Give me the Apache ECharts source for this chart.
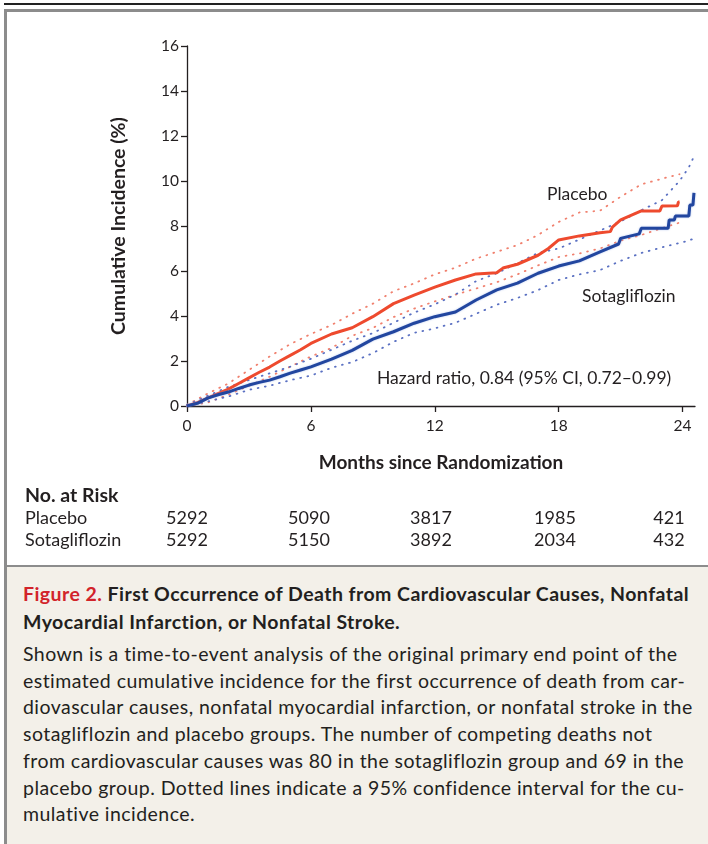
<!DOCTYPE html>
<html><head><meta charset="utf-8">
<script src="https://cdn.jsdelivr.net/npm/echarts@6/dist/echarts.min.js"></script>
<style>
html,body{margin:0;padding:0;background:#fff;}
#wrap{position:relative;width:708px;height:844px;overflow:hidden;font-family:Lato,"Open Sans",sans-serif;}
#chart{position:absolute;left:0;top:0;width:708px;height:566px;}
.bar{position:absolute;background:#8c8c8c;z-index:5;}
#topblack{position:absolute;left:4px;top:3px;width:704px;height:2px;background:#222;z-index:5;}
#cap{position:absolute;left:7px;top:567px;width:701px;height:277px;background:#f3f0e9;}
#cap .t{position:absolute;left:16px;top:13px;font-weight:bold;font-size:19.5px;letter-spacing:0.45px;line-height:28px;color:#231f20;white-space:nowrap;}
#cap .t span{color:#d2232a;}
#cap .b{position:absolute;left:16px;top:74px;font-size:19.5px;letter-spacing:0.45px;line-height:26.7px;color:#231f20;white-space:nowrap;}
</style></head>
<body><div id="wrap">
<div id="chart"></div>
<div id="topblack"></div>
<div class="bar" style="left:4px;top:9px;width:704px;height:3px;"></div>
<div class="bar" style="left:4px;top:9px;width:3px;height:835px;"></div>
<div class="bar" style="left:4px;top:565px;width:704px;height:2px;"></div>
<div id="cap">
<div class="t"><span>Figure 2.</span> First Occurrence of Death from Cardiovascular Causes, Nonfatal<br>Myocardial Infarction, or Nonfatal Stroke.</div>
<div class="b">Shown is a time-to-event analysis of the original primary end point of the<br>estimated cumulative incidence for the first occurrence of death from car-<br>diovascular causes, nonfatal myocardial infarction, or nonfatal stroke in the<br>sotagliflozin and placebo groups. The number of competing deaths not<br>from cardiovascular causes was 80 in the sotagliflozin group and 69 in the<br>placebo group. Dotted lines indicate a 95% confidence interval for the cu-<br>mulative incidence.</div>
</div>
</div>
<script>
// ---- data ----
const xTicks = [0, 6, 12, 18, 24];
const yTicks = [0, 2, 4, 6, 8, 10, 12, 14, 16];

const placeboMonths = [0,0.5,1,1.5,2,2.5,3,3.5,4,4.5,5,5.5,6,7,8,9,10,11,12,13,14,15,15.3,16,17,17.5,18,19,20,20.5,20.6,21,22,22.9,23,23.75,23.8,23.85];
const placeboValues = [0,0.15,0.35,0.55,0.75,1.0,1.25,1.5,1.73,2.0,2.25,2.5,2.78,3.2,3.48,3.97,4.55,4.93,5.28,5.6,5.87,5.92,6.13,6.3,6.7,7.0,7.38,7.56,7.7,7.75,7.95,8.27,8.67,8.67,8.89,8.9,9.07,9.07];

const sotaMonths = [0,0.5,1,1.5,2,2.5,3,3.5,4,4.5,5,5.5,6,7,8,9,10,11,12,13,14,15,16,17,18,19,20,20.9,21,21.9,22,23.3,23.35,23.6,23.65,24.3,24.35,24.5,24.55];
const sotaValues = [0,0.12,0.35,0.5,0.62,0.78,0.93,1.05,1.15,1.3,1.46,1.6,1.74,2.08,2.47,2.97,3.3,3.68,3.97,4.18,4.71,5.16,5.46,5.9,6.22,6.45,6.85,7.2,7.45,7.65,7.9,7.9,8.27,8.27,8.44,8.44,8.93,8.93,9.47];

const placeboCIMonths = [0,1,2,3,4,5,6,7,8,9,10,11,12,13,14,15,16,17,18,19,20,21,22,23,23.85];
const placeboUpper = [0.05,0.55,1.0,1.6,2.2,2.75,3.2,3.6,4.1,4.55,5.1,5.45,5.85,6.15,6.55,6.85,7.15,7.6,8.18,8.6,8.68,9.3,9.85,10.1,10.3];
const placeboLower = [0,0.15,0.5,0.9,1.3,1.75,2.2,2.58,3.12,3.47,3.95,4.33,4.65,4.95,5.22,5.5,5.85,6.25,6.62,6.78,7.0,7.35,7.6,7.9,8.15];

const sotaCIMonths = [0,1,2,3,4,5,6,7,8,9,10,11,12,13,14,15,16,17,18,19,20,21,22,23,23.85,24.3,24.6];
const sotaUpper = [0.05,0.45,0.85,1.15,1.45,1.75,2.1,2.5,2.9,3.24,3.7,4.15,4.52,4.95,5.55,5.9,6.35,6.8,7.0,7.4,7.8,8.2,8.7,9.15,10.0,10.6,11.2];
const sotaLower = [0,0.2,0.42,0.72,0.9,1.15,1.35,1.7,1.95,2.35,2.85,3.25,3.45,3.7,4.1,4.5,4.8,5.15,5.6,5.85,6.04,6.45,6.8,7.05,7.25,7.35,7.47];

const riskGroups = ['Placebo', 'Sotagliflozin'];
const riskPlacebo = ['5292', '5090', '3817', '1985', '421'];
const riskSota = ['5292', '5150', '3892', '2034', '432'];

// ---- chart ----
const zip = (xs, ys) => xs.map((x, i) => [x, ys[i]]);
const RED = '#ee4a2e', BLUE = '#22469f', RED_CI = '#f0806e', BLUE_CI = '#5a70c2';
const FONT = 'Lato';

const chart = echarts.init(document.getElementById('chart'), null, {renderer: 'canvas'});

function ciSeries(name, data, color) {
  return {name, type: 'line', data, symbol: 'none', silent: true, z: 2,
    lineStyle: {color, width: 1.8, type: [0.8, 6.5], cap: 'round'}};
}

const option = {
  animation: false,
  backgroundColor: 'transparent',
  grid: {left: 187, right: 13, top: 46, bottom: 160, containLabel: false},
  xAxis: {
    type: 'value', min: 0, max: 24.6,
    axisLine: {lineStyle: {color: '#231f20', width: 1.3}},
    axisTick: {show: true, customValues: xTicks, length: 6, lineStyle: {color: '#231f20', width: 1.3}},
    axisLabel: {customValues: xTicks, margin: 12, fontFamily: FONT, fontSize: 15.5, color: '#231f20'},
    splitLine: {show: false},
    name: 'Months since Randomization', nameLocation: 'middle', nameGap: 47,
    nameTextStyle: {fontFamily: FONT, fontSize: 19, fontWeight: 'bold', color: '#231f20'}
  },
  yAxis: {
    type: 'value', min: 0, max: 16, interval: 2,
    axisLine: {show: true, lineStyle: {color: '#231f20', width: 1.3}},
    axisTick: {show: true, length: 6, lineStyle: {color: '#231f20', width: 1.3}},
    axisLabel: {margin: 8, fontFamily: FONT, fontSize: 15.5, color: '#231f20'},
    splitLine: {show: false},
    name: 'Cumulative Incidence (%)', nameLocation: 'middle', nameGap: 58, nameRotate: 90,
    nameTextStyle: {fontFamily: FONT, fontSize: 19.5, fontWeight: 'bold', color: '#231f20'}
  },
  series: [
    ciSeries('Placebo upper', zip(placeboCIMonths, placeboUpper), RED_CI),
    ciSeries('Placebo lower', zip(placeboCIMonths, placeboLower), RED_CI),
    ciSeries('Sotagliflozin upper', zip(sotaCIMonths, sotaUpper), BLUE_CI),
    ciSeries('Sotagliflozin lower', zip(sotaCIMonths, sotaLower), BLUE_CI),
    {name: 'Placebo', type: 'line', data: zip(placeboMonths, placeboValues), symbol: 'none', z: 4,
      lineStyle: {color: RED, width: 3}},
    {name: 'Sotagliflozin', type: 'line', data: zip(sotaMonths, sotaValues), symbol: 'none', z: 5,
      lineStyle: {color: BLUE, width: 3, shadowColor: 'rgba(120,150,220,0.6)', shadowBlur: 2}}
  ]
};
chart.setOption(option);

const txt = (x, y, text, extra) => ({type: 'text', x, y,
  style: Object.assign({text, fontFamily: FONT, fontSize: 17.5, fill: '#231f20', textVerticalAlign: 'middle'}, extra || {})});
const riskX = [187, 309, 431, 555, 669];
const graphics = [
  txt(547, 194, 'Placebo'),
  txt(582, 296, 'Sotagliflozin'),
  txt(377, 378, 'Hazard ratio, 0.84 (95% CI, 0.72\u20130.99)'),
  txt(25, 496, 'No. at Risk', {fontWeight: 'bold', fontSize: 19.5}),
  txt(25, 518, riskGroups[0], {fontSize: 18}),
  txt(25, 540, riskGroups[1], {fontSize: 18})
];
riskPlacebo.forEach((v, i) => graphics.push(txt(riskX[i], 518, v, {textAlign: 'center', fontSize: 18})));
riskSota.forEach((v, i) => graphics.push(txt(riskX[i], 540, v, {textAlign: 'center', fontSize: 18})));
chart.setOption({graphic: graphics});
</script>
</body></html>
